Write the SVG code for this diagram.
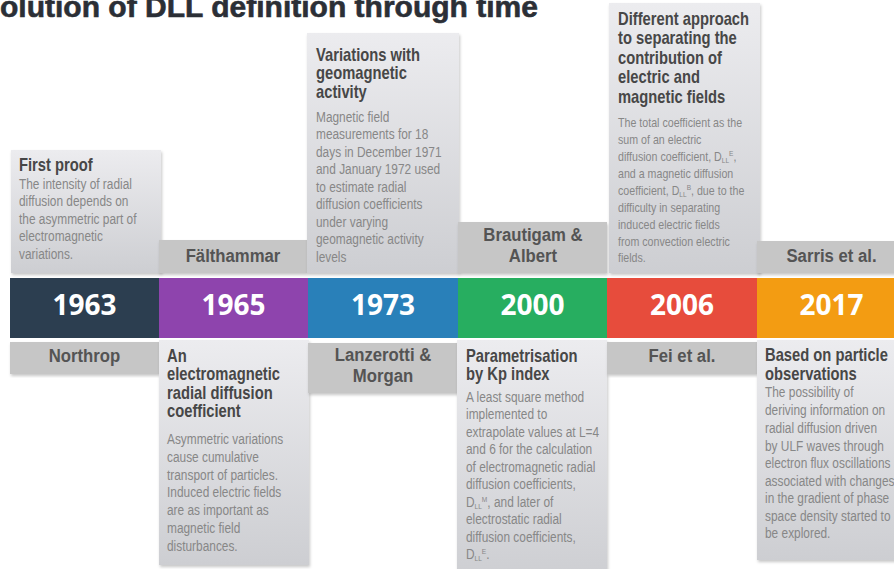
<svg xmlns="http://www.w3.org/2000/svg" width="894" height="569" viewBox="0 0 894 569">
<defs>
<linearGradient id="gbox" x1="0" y1="0" x2="0" y2="1">
<stop offset="0" stop-color="#ececef"/>
<stop offset="1" stop-color="#cdced2"/>
</linearGradient>
<filter id="sh" x="-10%" y="-10%" width="120%" height="120%">
<feDropShadow dx="1" dy="2" stdDeviation="1.5" flood-color="#000" flood-opacity="0.22"/>
</filter>
<style>
.box{fill:url(#gbox);filter:url(#sh)}
.lb{fill:#c6c6c6;filter:url(#sh)}
.t{font-family:"Liberation Sans",Arial,sans-serif;font-weight:bold;font-size:18px;fill:#474747}
.b{font-family:"Liberation Sans",Arial,sans-serif;font-size:14.5px;fill:#878787}
.s{font-size:13px}
.lt{font-family:"Liberation Sans",Arial,sans-serif;font-weight:bold;font-size:19px;fill:#545454;text-anchor:middle}
.yr{font-family:"Open Sans","Liberation Sans",sans-serif;font-weight:bold;font-size:28px;fill:#fff;text-anchor:middle}
.sub{font-size:8px}
</style>
</defs>
<rect width="894" height="569" fill="#fff"/>
<text x="0" y="17" font-family="Liberation Sans,sans-serif" font-weight="bold" font-size="30" fill="#2b2f36" stroke="#2b2f36" stroke-width="0.6" textLength="538" lengthAdjust="spacingAndGlyphs">olution of DLL definition through time</text>

<g id="bar">
<rect x="10" y="278" width="149" height="60" fill="#2c3e50"/>
<rect x="159" y="278" width="149" height="60" fill="#8e44ad"/>
<rect x="308" y="278" width="150" height="60" fill="#2980b9"/>
<rect x="458" y="278" width="149" height="60" fill="#27ae60"/>
<rect x="607" y="278" width="150" height="60" fill="#e74c3c"/>
<rect x="757" y="278" width="137" height="60" fill="#f39c12"/>
</g>

<g id="connectors"/>

<g id="n1963">
<text class="yr" x="84.5" y="315">1963</text>
<rect class="box" x="11" y="150" width="150" height="123"/>
<g transform="translate(19 0) scale(0.82 1)">
<text class="t" x="0" y="171">First proof</text>
<text class="b" x="0" y="189">The intensity of radial</text>
<text class="b" x="0" y="206.5">diffusion depends on</text>
<text class="b" x="0" y="224">the asymmetric part of</text>
<text class="b" x="0" y="241.5">electromagnetic</text>
<text class="b" x="0" y="259">variations.</text>
</g>
<rect class="lb" x="10" y="342" width="149" height="32"/>
<g transform="translate(84.5 0) scale(0.88 1)"><text class="lt" x="0" y="362">Northrop</text></g>
</g>

<g id="n1965">
<text class="yr" x="233.5" y="315">1965</text>
<rect class="lb" x="159" y="240" width="148" height="33"/>
<g transform="translate(233 0) scale(0.88 1)"><text class="lt" x="0" y="262">Fälthammar</text></g>
<rect class="box" x="159" y="340" width="150" height="225"/>
<g transform="translate(167 0) scale(0.82 1)">
<text class="t" x="0" y="362">An</text>
<text class="t" x="0" y="380.5">electromagnetic</text>
<text class="t" x="0" y="399">radial diffusion</text>
<text class="t" x="0" y="417.5">coefficient</text>
<text class="b" x="0" y="444">Asymmetric variations</text>
<text class="b" x="0" y="462">cause cumulative</text>
<text class="b" x="0" y="480">transport of particles.</text>
<text class="b" x="0" y="497.5">Induced electric fields</text>
<text class="b" x="0" y="515.5">are as important as</text>
<text class="b" x="0" y="533">magnetic field</text>
<text class="b" x="0" y="551">disturbances.</text>
</g>
</g>

<g id="n1973">
<text class="yr" x="383" y="315">1973</text>
<rect class="box" x="307" y="33" width="152" height="240"/>
<g transform="translate(316 0) scale(0.82 1)">
<text class="t" x="0" y="61">Variations with</text>
<text class="t" x="0" y="79.5">geomagnetic</text>
<text class="t" x="0" y="98">activity</text>
<text class="b" x="0" y="122">Magnetic field</text>
<text class="b" x="0" y="139.5">measurements for 18</text>
<text class="b" x="0" y="157">days in December 1971</text>
<text class="b" x="0" y="174.5">and January 1972 used</text>
<text class="b" x="0" y="192">to estimate radial</text>
<text class="b" x="0" y="209.5">diffusion coefficients</text>
<text class="b" x="0" y="227">under varying</text>
<text class="b" x="0" y="244.5">geomagnetic activity</text>
<text class="b" x="0" y="262">levels</text>
</g>
<rect class="lb" x="308" y="343" width="150" height="50"/>
<g transform="translate(383 0) scale(0.88 1)">
<text class="lt" x="0" y="361">Lanzerotti &amp;</text>
<text class="lt" x="0" y="382">Morgan</text>
</g>
</g>

<g id="n2000">
<text class="yr" x="532.5" y="315">2000</text>
<rect class="lb" x="458" y="222" width="149" height="51"/>
<g transform="translate(533 0) scale(0.88 1)">
<text class="lt" x="0" y="241">Brautigam &amp;</text>
<text class="lt" x="0" y="262">Albert</text>
</g>
<rect class="box" x="457" y="340" width="150" height="240"/>
<g transform="translate(466 0) scale(0.82 1)">
<text class="t" x="0" y="362">Parametrisation</text>
<text class="t" x="0" y="380">by Kp index</text>
<text class="b" x="0" y="402">A least square method</text>
<text class="b" x="0" y="419.5">implemented to</text>
<text class="b" x="0" y="437">extrapolate values at L=4</text>
<text class="b" x="0" y="454.5">and 6 for the calculation</text>
<text class="b" x="0" y="472">of electromagnetic radial</text>
<text class="b" x="0" y="489.5">diffusion coefficients,</text>
<text class="b" x="0" y="507">D<tspan class="sub" dy="2">LL</tspan><tspan class="sub" dy="-7">M</tspan><tspan dy="5">, and later of</tspan></text>
<text class="b" x="0" y="524.5">electrostatic radial</text>
<text class="b" x="0" y="542">diffusion coefficients,</text>
<text class="b" x="0" y="559.5">D<tspan class="sub" dy="2">LL</tspan><tspan class="sub" dy="-7">E</tspan><tspan dy="5">.</tspan></text>
</g>
</g>

<g id="n2006">
<text class="yr" x="682" y="315">2006</text>
<rect class="box" x="609" y="3" width="151" height="270"/>
<g transform="translate(618 0) scale(0.82 1)">
<text class="t" x="0" y="25">Different approach</text>
<text class="t" x="0" y="44.5">to separating the</text>
<text class="t" x="0" y="64">contribution of</text>
<text class="t" x="0" y="83.5">electric and</text>
<text class="t" x="0" y="103">magnetic fields</text>
<text class="b s" x="0" y="127">The total coefficient as the</text>
<text class="b s" x="0" y="144">sum of an electric</text>
<text class="b s" x="0" y="161">diffusion coefficient, D<tspan class="sub" dy="2">LL</tspan><tspan class="sub" dy="-7">E</tspan><tspan dy="5">,</tspan></text>
<text class="b s" x="0" y="178">and a magnetic diffusion</text>
<text class="b s" x="0" y="195">coefficient, D<tspan class="sub" dy="2">LL</tspan><tspan class="sub" dy="-7">B</tspan><tspan dy="5">, due to the</tspan></text>
<text class="b s" x="0" y="212">difficulty in separating</text>
<text class="b s" x="0" y="229">induced electric fields</text>
<text class="b s" x="0" y="246">from convection electric</text>
<text class="b s" x="0" y="262">fields.</text>
</g>
<rect class="lb" x="607" y="342" width="150" height="32"/>
<g transform="translate(682 0) scale(0.88 1)"><text class="lt" x="0" y="362">Fei et al.</text></g>
</g>

<g id="n2017">
<text class="yr" x="831.5" y="315">2017</text>
<rect class="lb" x="757" y="241" width="150" height="32"/>
<g transform="translate(831.5 0) scale(0.88 1)"><text class="lt" x="0" y="262">Sarris et al.</text></g>
<rect class="box" x="757" y="340" width="150" height="220"/>
<g transform="translate(765 0) scale(0.82 1)">
<text class="t" x="0" y="361">Based on particle</text>
<text class="t" x="0" y="380">observations</text>
<text class="b" x="0" y="397">The possibility of</text>
<text class="b" x="0" y="415">deriving information on</text>
<text class="b" x="0" y="433">radial diffusion driven</text>
<text class="b" x="0" y="451">by ULF waves through</text>
<text class="b" x="0" y="468">electron flux oscillations</text>
<text class="b" x="0" y="486">associated with changes</text>
<text class="b" x="0" y="503">in the gradient of phase</text>
<text class="b" x="0" y="521">space density started to</text>
<text class="b" x="0" y="538">be explored.</text>
</g>
</g>
</svg>
